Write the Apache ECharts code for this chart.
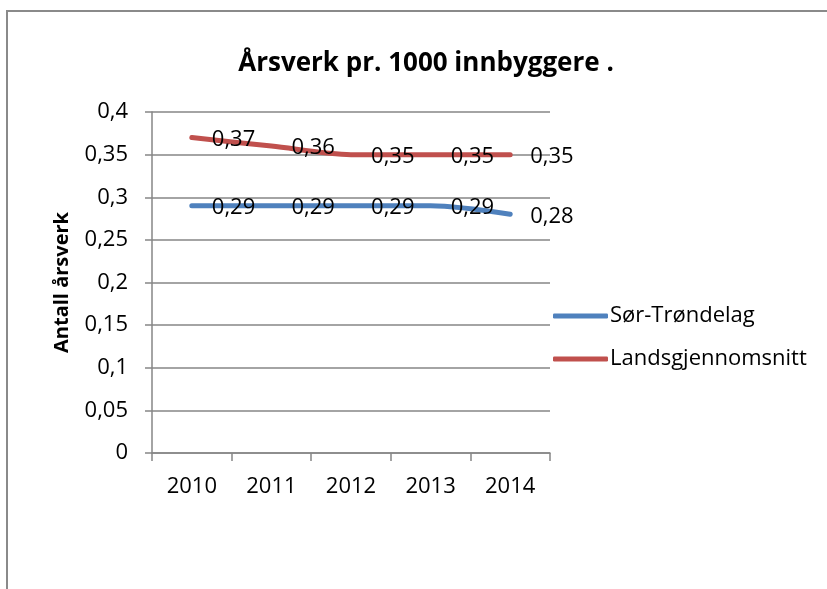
<!DOCTYPE html>
<html>
<head>
<meta charset="utf-8">
<script src="https://cdn.jsdelivr.net/npm/echarts@6/dist/echarts.min.js"></script>
<style>
html,body{margin:0;padding:0;background:#fff;}
#c{width:827px;height:589px;}
</style>
</head>
<body>
<div id="c"></div>
<script>
const categories = ['2010', '2011', '2012', '2013', '2014'];
const sorTrondelag = [0.29, 0.29, 0.29, 0.29, 0.28];
const landsgjennomsnitt = [0.37, 0.36, 0.35, 0.35, 0.35];
const seriesNames = ['Sør-Trøndelag', 'Landsgjennomsnitt'];
const yTicks = { min: 0, max: 0.4, interval: 0.05 };

const FONT = 'Open Sans';
const FS = 22;
const fmt = v => String(Math.round(v * 100) / 100).replace('.', ',');

const chart = echarts.init(document.getElementById('c'), null, { renderer: 'canvas' });

function lineSeries(name, data, color) {
  return {
    name: name,
    type: 'line',
    data: data,
    smooth: 0.3,
    symbol: 'circle',
    symbolSize: 0.1,
    showSymbol: true,
    lineStyle: { color: color, width: 5, cap: 'round' },
    itemStyle: { color: color },
    label: {
      show: true,
      position: 'right',
      distance: 20,
      offset: [0, 2],
      color: '#000',
      fontFamily: FONT,
      fontSize: FS,
      formatter: p => fmt(p.value)
    },
    emphasis: { disabled: true },
    animation: false
  };
}

chart.setOption({
  animation: false,
  backgroundColor: '#fff',
  graphic: [{
    type: 'rect',
    shape: { x: 7, y: 11, width: 900, height: 700 },
    style: { fill: 'none', stroke: '#8a8a8a', lineWidth: 2 },
    silent: true
  }],
  title: {
    text: 'Årsverk pr. 1000 innbyggere .',
    left: 421,
    textAlign: 'center',
    top: 46,
    textStyle: { fontFamily: FONT, fontWeight: 'bold', fontSize: 26, color: '#000' }
  },
  legend: {
    orient: 'vertical',
    left: 548,
    top: 300,
    itemWidth: 55,
    itemHeight: 5,
    itemGap: 21,
    icon: 'roundRect',
    data: seriesNames,
    textStyle: { fontFamily: FONT, fontSize: FS, color: '#000', padding: [0, 0, 0, -3] }
  },
  grid: { left: 152, right: 277, top: 112, bottom: 136, containLabel: false },
  xAxis: {
    type: 'category',
    data: categories,
    boundaryGap: true,
    axisLine: { lineStyle: { color: '#868686', width: 1.5 } },
    axisTick: { show: true, length: 8, inside: false, alignWithLabel: false, lineStyle: { color: '#868686', width: 1.5 } },
    axisLabel: { color: '#000', fontFamily: FONT, fontSize: FS, margin: 23 },
    splitLine: { show: false }
  },
  yAxis: {
    type: 'value',
    min: yTicks.min,
    max: yTicks.max,
    interval: yTicks.interval,
    name: 'Antall årsverk',
    nameLocation: 'middle',
    nameGap: 80,
    nameRotate: 90,
    nameTextStyle: { fontFamily: FONT, fontWeight: 'bold', fontSize: 20, color: '#000' },
    axisLine: { show: true, lineStyle: { color: '#868686', width: 1.5 } },
    axisTick: { show: true, length: 7, lineStyle: { color: '#868686', width: 1.5 } },
    axisLabel: { color: '#000', fontFamily: FONT, fontSize: FS, margin: 24, formatter: v => fmt(v) },
    splitLine: { show: true, lineStyle: { color: '#868686', width: 1.5 } }
  },
  series: [
    lineSeries(seriesNames[0], sorTrondelag, '#4F81BD'),
    lineSeries(seriesNames[1], landsgjennomsnitt, '#C0504D')
  ]
});
</script>
</body>
</html>
